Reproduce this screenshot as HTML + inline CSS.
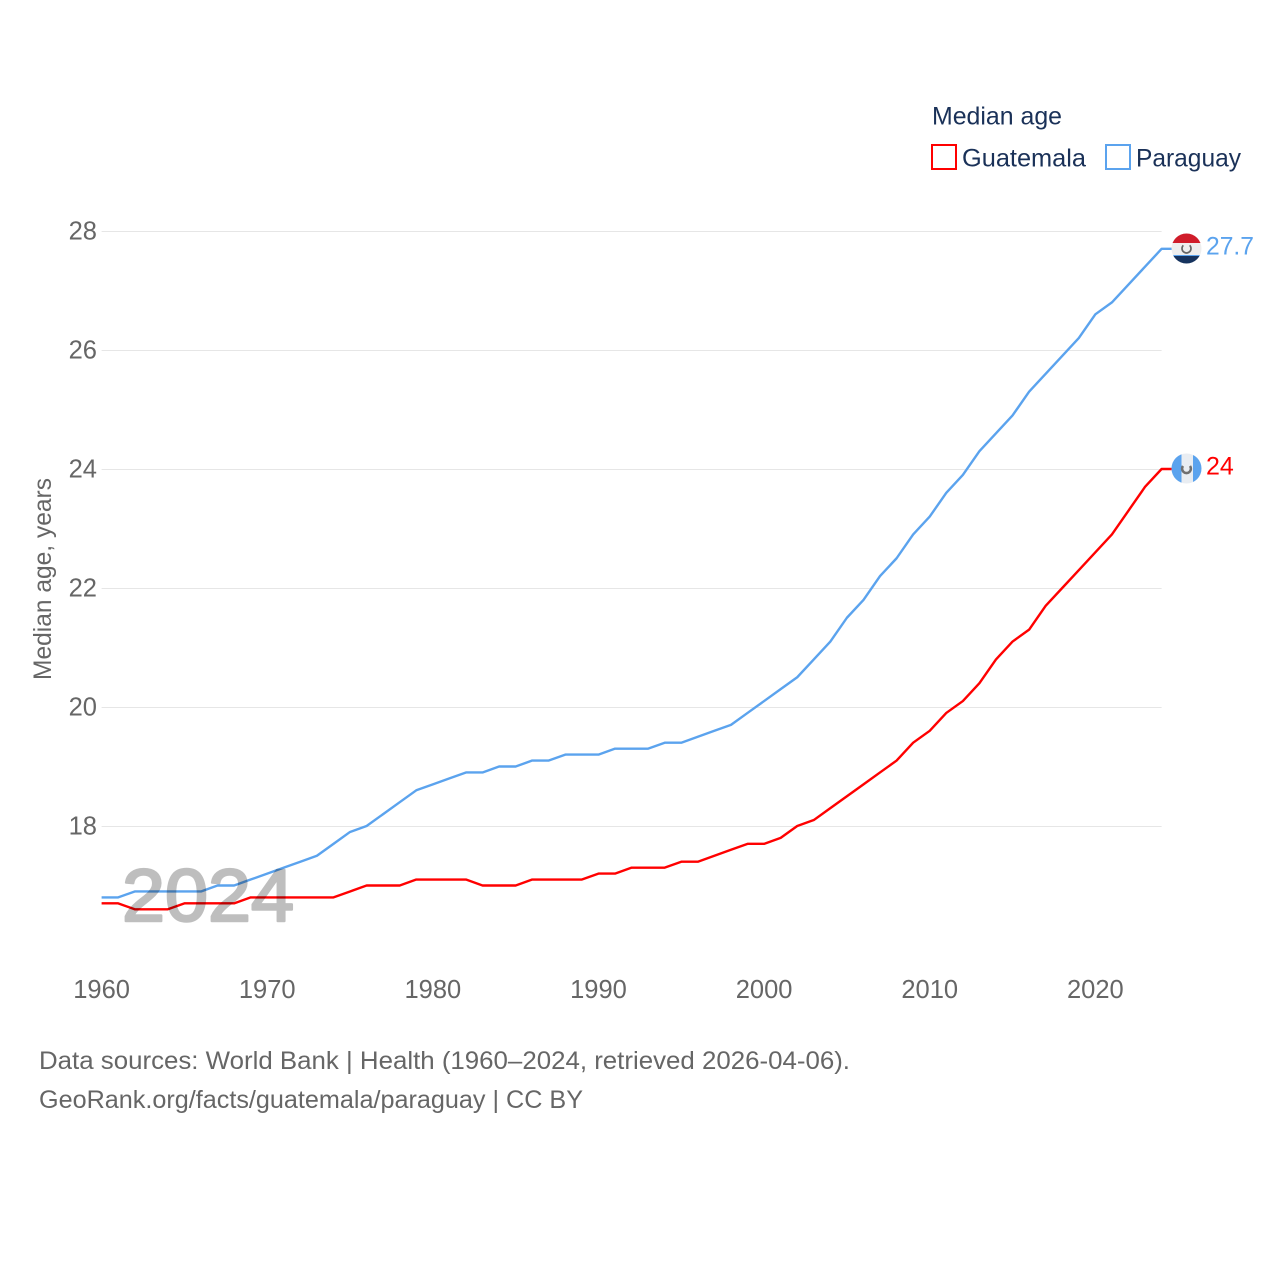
<!DOCTYPE html>
<html lang="en">
<head>
<meta charset="utf-8">
<title>Median age: Guatemala and Paraguay</title>
<style>
html,body{margin:0;padding:0;background:#fff;width:1280px;height:1280px;overflow:hidden}
svg{display:block}
text{font-family:"Liberation Sans",sans-serif;font-size:25px}
.tick{fill:#666}
.axis-num{font-size:25.5px}
.legend{fill:#1a3158}
</style>
</head>
<body>
<svg id="chart" xmlns="http://www.w3.org/2000/svg" width="1280" height="1280" viewBox="0 0 1280 1280">
  <defs>
    <clipPath id="flag-clip-py"><circle cx="1186.5" cy="248.5" r="15"/></clipPath>
    <clipPath id="flag-clip-gt"><circle cx="1186.5" cy="468.5" r="15"/></clipPath>
  </defs>
  <g id="grid"></g>
  <g id="y-ticks"></g>
  <g id="x-ticks"></g>
  <g id="series"></g>

  <g opacity="0.25">
    <text x="122" y="921" textLength="172" lengthAdjust="spacingAndGlyphs" style="font-size:74px;fill:#000;stroke:#000;stroke-width:2.5;stroke-linejoin:round">2024</text>
  </g>

  <text class="tick" transform="translate(51 680) rotate(-90)" textLength="202" lengthAdjust="spacingAndGlyphs">Median age, years</text>

  <g>
    <text class="legend" x="932" y="124.5" textLength="130" lengthAdjust="spacingAndGlyphs">Median age</text>
    <rect x="932" y="145" width="24" height="24" fill="none" stroke="#ff0000" stroke-width="2"/>
    <text class="legend" x="962" y="166.5" textLength="124" lengthAdjust="spacingAndGlyphs">Guatemala</text>
    <rect x="1106" y="145" width="24" height="24" fill="none" stroke="#5ba3ee" stroke-width="2"/>
    <text class="legend" x="1136" y="166.5" textLength="105" lengthAdjust="spacingAndGlyphs">Paraguay</text>
  </g>

  <g clip-path="url(#flag-clip-py)">
    <rect x="1171" y="233" width="31" height="31" fill="#eeeeee"/>
    <rect x="1171" y="233" width="31" height="10" fill="#d01c2a"/>
    <rect x="1171" y="256" width="31" height="9" fill="#16335e"/>
    <rect x="1171" y="255" width="31" height="1" fill="#5ba3ee"/>
    <path d="M1183.3 245.3a4.5 4.5 0 1 0 6.4 0" fill="none" stroke="#666" stroke-width="1.7"/>
  </g>
  <g clip-path="url(#flag-clip-gt)">
    <rect x="1171" y="453" width="31" height="31" fill="#e9edf2"/>
    <rect x="1171" y="453" width="10.5" height="31" fill="#5ba3ee"/>
    <rect x="1193" y="453" width="10" height="31" fill="#5ba3ee"/>
    <path d="M1183 466a4.4 4.4 0 1 0 7 0" fill="none" stroke="#707070" stroke-width="2.6"/>
  </g>

  <text id="value-paraguay" x="1206" y="254.5" style="fill:#5ba3ee" textLength="48" lengthAdjust="spacingAndGlyphs"></text>
  <text id="value-guatemala" x="1206" y="474.5" style="fill:#ff0000"></text>

  <g>
    <text class="tick" x="39" y="1069" textLength="811" lengthAdjust="spacingAndGlyphs">Data sources: World Bank | Health (1960–2024, retrieved 2026-04-06).</text>
    <text class="tick" x="39" y="1108" textLength="544" lengthAdjust="spacingAndGlyphs">GeoRank.org/facts/guatemala/paraguay | CC BY</text>
  </g>
</svg>
<script>
const years = [1960,1961,1962,1963,1964,1965,1966,1967,1968,1969,1970,1971,1972,1973,1974,1975,1976,1977,1978,1979,1980,1981,1982,1983,1984,1985,1986,1987,1988,1989,1990,1991,1992,1993,1994,1995,1996,1997,1998,1999,2000,2001,2002,2003,2004,2005,2006,2007,2008,2009,2010,2011,2012,2013,2014,2015,2016,2017,2018,2019,2020,2021,2022,2023,2024];
const guatemala = [16.7,16.7,16.6,16.6,16.6,16.7,16.7,16.7,16.7,16.8,16.8,16.8,16.8,16.8,16.8,16.9,17.0,17.0,17.0,17.1,17.1,17.1,17.1,17.0,17.0,17.0,17.1,17.1,17.1,17.1,17.2,17.2,17.3,17.3,17.3,17.4,17.4,17.5,17.6,17.7,17.7,17.8,18.0,18.1,18.3,18.5,18.7,18.9,19.1,19.4,19.6,19.9,20.1,20.4,20.8,21.1,21.3,21.7,22.0,22.3,22.6,22.9,23.3,23.7,24.0];
const paraguay = [16.8,16.8,16.9,16.9,16.9,16.9,16.9,17.0,17.0,17.1,17.2,17.3,17.4,17.5,17.7,17.9,18.0,18.2,18.4,18.6,18.7,18.8,18.9,18.9,19.0,19.0,19.1,19.1,19.2,19.2,19.2,19.3,19.3,19.3,19.4,19.4,19.5,19.6,19.7,19.9,20.1,20.3,20.5,20.8,21.1,21.5,21.8,22.2,22.5,22.9,23.2,23.6,23.9,24.3,24.6,24.9,25.3,25.6,25.9,26.2,26.6,26.8,27.1,27.4,27.7];
const yTickLabels = [18,20,22,24,26,28];
const xTickLabels = [1960,1970,1980,1990,2000,2010,2020];

const NS = 'http://www.w3.org/2000/svg';
const xScale = function (year) { return 101.6 + (year - 1960) * 16.5625; };
const yScale = function (value) { return 826 - (value - 18) * 59.5; };

const gridGroup = document.getElementById('grid');
const yGroup = document.getElementById('y-ticks');
const xGroup = document.getElementById('x-ticks');
const seriesGroup = document.getElementById('series');

yTickLabels.forEach(function (tick) {
  const line = document.createElementNS(NS, 'line');
  
  
  line.setAttribute('x1', xScale(1960));
  line.setAttribute('x2', xScale(2024));
  line.setAttribute('y1', Math.round(yScale(tick)) + 0.5);
  line.setAttribute('y2', Math.round(yScale(tick)) + 0.5);
  line.setAttribute('stroke', '#e6e6e6');
  line.setAttribute('stroke-width', '1');
  gridGroup.appendChild(line);

  const label = document.createElementNS(NS, 'text');
  
  
  label.setAttribute('class', 'tick axis-num');
  label.setAttribute('x', 97);
  label.setAttribute('y', yScale(tick) + 8.5);
  label.setAttribute('text-anchor', 'end');
  label.textContent = tick;
  yGroup.appendChild(label);
});

xTickLabels.forEach(function (tick) {
  const label = document.createElementNS(NS, 'text');
  
  
  label.setAttribute('class', 'tick axis-num');
  label.setAttribute('x', xScale(tick));
  label.setAttribute('y', 998);
  label.setAttribute('text-anchor', 'middle');
  label.textContent = tick;
  xGroup.appendChild(label);
});

function drawSeries(values, color, name) {
  const pts = values.map(function (v, i) { return xScale(years[i]) + ',' + yScale(v); });
  pts.push('1172,' + yScale(values[values.length - 1]));
  const path = document.createElementNS(NS, 'polyline');
  
  
  path.setAttribute('points', pts.join(' '));
  path.setAttribute('fill', 'none');
  path.setAttribute('stroke', color);
  path.setAttribute('stroke-width', '2.4');
  path.setAttribute('stroke-linejoin', 'round');
  seriesGroup.appendChild(path);
}
drawSeries(guatemala, '#ff0000', 'line-guatemala');
drawSeries(paraguay, '#5ba3ee', 'line-paraguay');

document.getElementById('value-paraguay').textContent = paraguay[paraguay.length - 1];
document.getElementById('value-guatemala').textContent = guatemala[guatemala.length - 1];
</script>
</body>
</html>
